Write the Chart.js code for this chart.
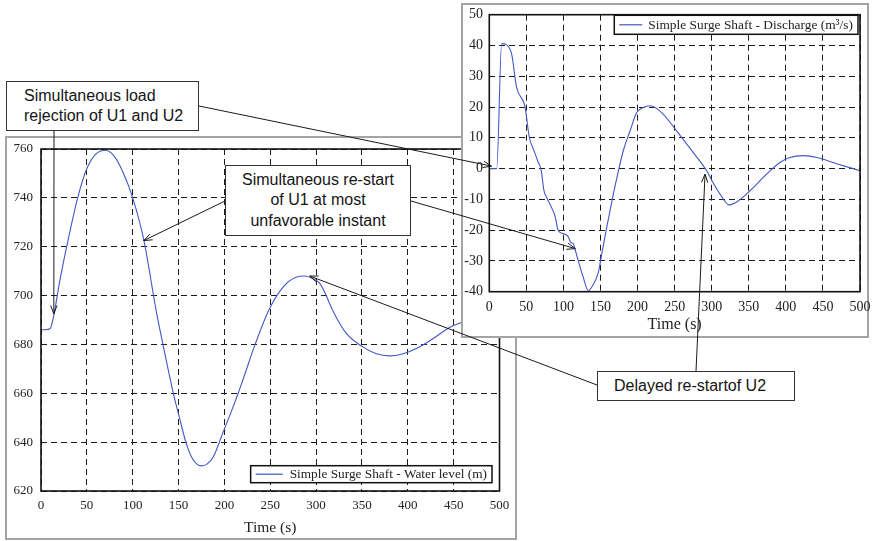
<!DOCTYPE html>
<html>
<head>
<meta charset="utf-8">
<script src="https://cdn.jsdelivr.net/npm/chart.js@4.4.1/dist/chart.umd.min.js"></script>
<style>
  html, body { margin: 0; padding: 0; background: #fff; }
  body { width: 874px; height: 541px; position: relative; overflow: hidden; }
  .frame { position: absolute; background: #fff; border: 2px solid #a4a4a4; box-sizing: border-box; }
  canvas { position: absolute; }
  .note {
    position: absolute; background: #fff; border: 1px solid #333; box-sizing: border-box;
    font-family: "Liberation Sans", Arial, sans-serif; font-size: 16px; line-height: 20px; color: #151515;
    display: flex; flex-direction: column; justify-content: center;
  }
</style>
</head>
<body>
<div class="frame" style="left:5px;top:136px;width:512px;height:404px"></div>
<canvas id="mainChart" width="508" height="400" style="left:7px;top:138px"></canvas>
<div class="frame" style="left:461px;top:3px;width:408px;height:335px"></div>
<canvas id="insetChart" width="411" height="332" style="left:463px;top:5px"></canvas>

<div class="note" style="left:6px;top:81px;width:193px;height:50px;padding-left:17px">
  <div>Simultaneous load</div><div>rejection of U1 and U2</div>
</div>
<div class="note" style="left:225px;top:165px;width:186px;height:71px;text-align:center;line-height:20.5px">
  <div>Simultaneous re-start</div><div>of U1 at most</div><div>unfavorable instant</div>
</div>
<div class="note" style="left:597px;top:371px;width:198px;height:30px;padding-left:16px">
  <div>Delayed re-startof U2</div>
</div>
<canvas id="overlay" width="874" height="541" style="left:0;top:0;pointer-events:none"></canvas>

<script>
// surge shaft water level (m) over time (s)
const levelTime = [0, 5, 10, 14, 20, 28, 40, 50, 60, 70, 80, 90, 100, 112, 126, 133, 144, 151, 158, 164,
  170, 175, 181, 188, 198, 208, 215, 222, 233, 249, 264, 278, 288, 296, 304, 311, 318, 333, 351, 365,
  380, 395, 410, 428, 446, 458, 470, 485, 500];
const levelValues = [686, 686, 686.5, 692, 705, 720, 740, 752, 758, 759.5, 757, 750, 740, 723, 693, 680, 660.5, 650, 640, 634,
  631, 630.3, 631, 634, 643.5, 653, 660, 667.5, 679.5, 694.5, 703.5, 707.5, 708, 707, 705, 700, 694, 684.5, 679, 676.3,
  675.3, 676.2, 678.4, 682.5, 687, 689, 691, 692.5, 693.5];

// surge shaft discharge (m3/s) over time (s)
const flowTime = [0, 10, 16.7, 29.3, 36.9, 48.2, 54, 60, 66.1, 69.7, 73.8, 77.4, 84.1, 88.6, 93.1, 99.8, 106.6, 109.8, 113.3, 114.7,
  120, 126.8, 133.6, 140.3, 147, 151.6, 158.3, 167.3, 173, 180.7, 189.8, 198.8, 207, 216.7, 232.5, 252.8, 275.2, 293.2, 300, 311.2,
  323.7, 335.9, 351.6, 374.1, 392, 405.5, 423.5, 441.6, 468.6, 500];
const flowValues = [0, 0, 40.6, 38, 26.3, 20, 10.1, 6, 2, -0.2, -7.2, -9.4, -12.7, -15.4, -20.2, -21.1, -22.2, -24, -24.4, -25.4,
  -30, -35.4, -39.7, -37.6, -33.8, -27.8, -19.2, -8.3, -2, 5.8, 12.2, 18.2, 19.8, 20.4, 18.2, 12.2, 5.2, -0.7, -3.8, -8.3,
  -11.8, -10.5, -7.2, -1.8, 2, 3.6, 4.2, 3.6, 1.6, -0.7];

const timeTicks = [0, 50, 100, 150, 200, 250, 300, 350, 400, 450, 500];
const levelTicks = [620, 640, 660, 680, 700, 720, 740, 760];
const flowTicks = [-40, -30, -20, -10, 0, 10, 20, 30, 40, 50];

const lineBlue = '#4357c6';
const serif = '"Liberation Serif", "Times New Roman", serif';

// black box round the plot area
const plotBox = {
  id: 'plotBox',
  afterDatasetsDraw(chart) {
    const a = chart.chartArea, ctx = chart.ctx;
    ctx.save();
    ctx.strokeStyle = '#111';
    ctx.lineWidth = 1.6;
    ctx.strokeRect(a.left, a.top, a.right - a.left, a.bottom - a.top);
    ctx.restore();
  }
};

// matlab style legend drawn inside the plot
const boxLegend = {
  id: 'boxLegend',
  afterDraw(chart, args, o) {
    const ctx = chart.ctx, a = chart.chartArea;
    const ds = chart.data.datasets[0];
    ctx.save();
    ctx.font = o.size + 'px ' + serif;
    const tw = ctx.measureText(ds.label).width;
    const w = o.pad + o.sample + o.gap + tw + 5;
    const x = a.right - o.dx - w;
    const y = o.anchor === 'bottom' ? a.bottom - o.dy - o.height : a.top + o.dy;
    ctx.fillStyle = '#fff';
    ctx.fillRect(x, y, w, o.height);
    ctx.strokeStyle = '#111';
    ctx.lineWidth = 1.5;
    ctx.strokeRect(x, y, w, o.height);
    ctx.strokeStyle = ds.borderColor;
    ctx.lineWidth = 1.2;
    ctx.beginPath();
    ctx.moveTo(x + o.pad, y + o.height / 2);
    ctx.lineTo(x + o.pad + o.sample, y + o.height / 2);
    ctx.stroke();
    ctx.fillStyle = '#222';
    ctx.textBaseline = 'middle';
    ctx.fillText(ds.label, x + o.pad + o.sample + o.gap, y + o.height / 2 + 0.5);
    ctx.restore();
  }
};

function makeChart(id, xs, ys, label, yTicks, s) {
  const points = xs.map((t, i) => ({ x: t, y: ys[i] }));
  return new Chart(document.getElementById(id), {
    type: 'line',
    data: {
      datasets: [{
        label: label,
        data: points,
        borderColor: lineBlue,
        borderWidth: 1.1,
        pointRadius: 0,
        cubicInterpolationMode: 'monotone',
        fill: false
      }]
    },
    options: {
      responsive: false,
      animation: false,
      layout: { padding: s.padding },
      plugins: {
        legend: { display: false },
        tooltip: { enabled: false },
        boxLegend: s.legend
      },
      scales: {
        x: {
          type: 'linear',
          min: timeTicks[0],
          max: timeTicks[timeTicks.length - 1],
          afterBuildTicks: sc => { sc.ticks = timeTicks.map(v => ({ value: v })); },
          ticks: { color: '#222', font: { family: serif, size: s.tickSize }, padding: s.xPad, maxRotation: 0 },
          grid: { color: '#1c1c1c', lineWidth: 1, drawTicks: false },
          border: { display: false, dash: [6, 4] },
          title: { display: true, text: 'Time (s)', color: '#222', font: { family: serif, size: s.titleSize }, padding: { top: 0, bottom: s.titlePad } },
          afterFit: sc => { sc.height = s.xHeight; sc.paddingLeft = 0; sc.paddingRight = 0; }
        },
        y: {
          type: 'linear',
          min: yTicks[0],
          max: yTicks[yTicks.length - 1],
          afterBuildTicks: sc => { sc.ticks = yTicks.map(v => ({ value: v })); },
          ticks: { color: '#222', font: { family: serif, size: s.tickSize }, padding: s.yPad },
          grid: { color: '#1c1c1c', lineWidth: 1, drawTicks: false },
          border: { display: false, dash: [6, 4] },
          afterFit: sc => { sc.width = s.yWidth; sc.paddingTop = 0; sc.paddingBottom = 0; }
        }
      }
    },
    plugins: [plotBox, boxLegend]
  });
}

const mainChart = makeChart('mainChart', levelTime, levelValues,
  'Simple Surge Shaft - Water level (m)', levelTicks, {
    padding: { left: 0, top: 11, right: 15.5, bottom: 0 },
    tickSize: 13, titleSize: 15.5, titlePad: 1, xPad: 7, yPad: 8,
    xHeight: 47, yWidth: 34,
    legend: { anchor: 'bottom', dx: 7.5, dy: 8.3, height: 17, pad: 5, sample: 27, gap: 7, size: 13.3 }
  });

const insetChart = makeChart('insetChart', flowTime, flowValues,
  'Simple Surge Shaft - Discharge (m\u00b3/s)', flowTicks, {
    padding: { left: 0, top: 9.7, right: 14, bottom: 0 },
    tickSize: 14, titleSize: 16, titlePad: 2.4, xPad: 7.3, yPad: 6.3,
    xHeight: 45.3, yWidth: 26.3,
    legend: { anchor: 'top', dx: 2, dy: 0.6, height: 19, pad: 5, sample: 23, gap: 6, size: 13.4 }
  });

// annotation arrows: start on a note box, end on a point of one of the curves
function toPage(chart, t, v) {
  const c = chart.canvas;
  return [c.offsetLeft + chart.scales.x.getPixelForValue(t), c.offsetTop + chart.scales.y.getPixelForValue(v)];
}

const arrows = [
  { from: [54, 131], chart: mainChart, at: [14, 692.5] },
  { from: [199, 106], chart: insetChart, at: [3, 0.8] },
  { from: [225, 201], chart: mainChart, at: [112, 722.5] },
  { from: [411, 201], chart: insetChart, at: [116, -26] },
  { from: [597, 385], chart: mainChart, at: [293, 708] },
  { from: [696, 371], chart: insetChart, at: [291, -1.8] }
];

const ov = document.getElementById('overlay').getContext('2d');
ov.strokeStyle = '#1a1a1a';
ov.lineWidth = 1;
arrows.forEach(a => {
  const [x0, y0] = a.from;
  const [x1, y1] = toPage(a.chart, a.at[0], a.at[1]);
  ov.beginPath();
  ov.moveTo(x0, y0);
  ov.lineTo(x1, y1);
  const ang = Math.atan2(y1 - y0, x1 - x0);
  const len = 9, spread = 0.36;
  ov.moveTo(x1 - len * Math.cos(ang - spread), y1 - len * Math.sin(ang - spread));
  ov.lineTo(x1, y1);
  ov.lineTo(x1 - len * Math.cos(ang + spread), y1 - len * Math.sin(ang + spread));
  ov.stroke();
});
</script>
</body>
</html>
